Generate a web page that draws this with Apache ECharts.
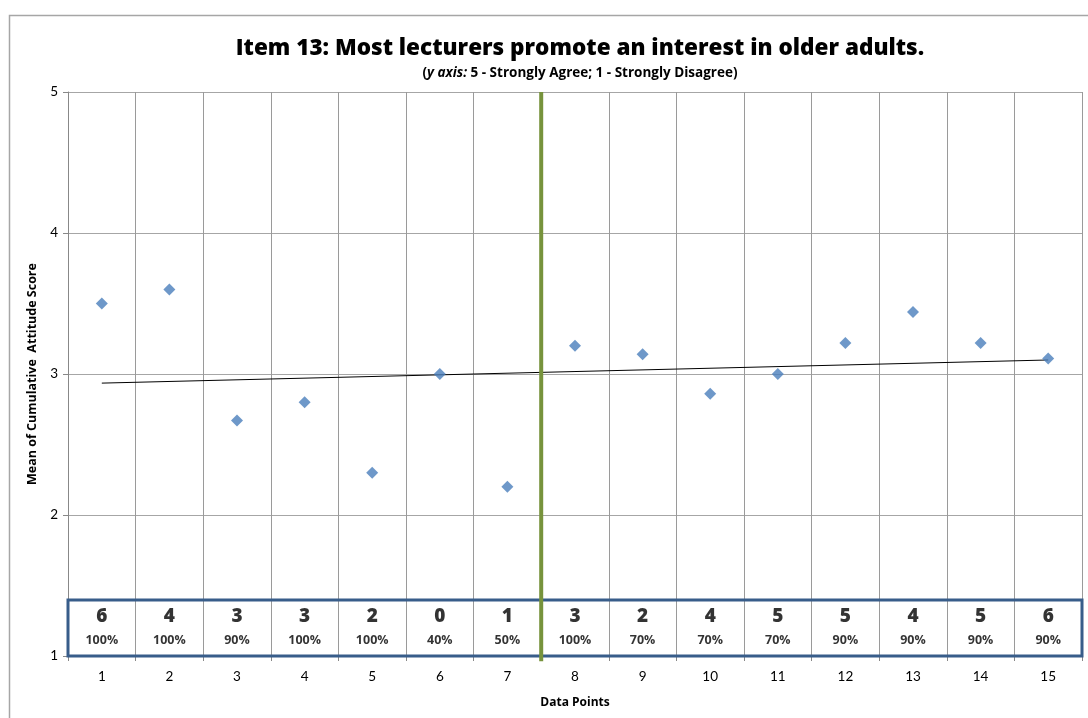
<!DOCTYPE html>
<html>
<head>
<meta charset="utf-8">
<script src="https://cdn.jsdelivr.net/npm/echarts@6/dist/echarts.min.js"></script>
<style>
html,body{margin:0;padding:0;background:#fff;}
#chart{width:1088px;height:718px;}
</style>
</head>
<body>
<div id="chart"></div>
<script>
// ---- data ----
const categories = ['1','2','3','4','5','6','7','8','9','10','11','12','13','14','15'];
const meanScores = [3.5, 3.6, 2.67, 2.8, 2.3, 3.0, 2.2, 3.2, 3.14, 2.86, 3.0, 3.22, 3.44, 3.22, 3.11];
const counts = [6, 4, 3, 3, 2, 0, 1, 3, 2, 4, 5, 5, 4, 5, 6];
const percents = ['100%', '100%', '90%', '100%', '100%', '40%', '50%', '100%', '70%', '70%', '70%', '90%', '90%', '90%', '90%'];
const yTicks = [1, 2, 3, 4, 5];
const phaseBreak = 7.5;

const FONT = 'Lato, "Open Sans", sans-serif';
const BFONT = '"Open Sans", Lato, sans-serif';

// linear trend from data
const n = meanScores.length;
const xs = meanScores.map((_, i) => i + 1);
const mx = xs.reduce((a, b) => a + b, 0) / n;
const my = meanScores.reduce((a, b) => a + b, 0) / n;
let sxy = 0, sxx = 0;
for (let i = 0; i < n; i++) { sxy += (xs[i] - mx) * (meanScores[i] - my); sxx += (xs[i] - mx) * (xs[i] - mx); }
const slope = sxy / sxx, icpt = my - slope * mx;
const trend = [[1, icpt + slope], [n, icpt + slope * n]];

const chart = echarts.init(document.getElementById('chart'));
chart.setOption({
  animation: false,
  backgroundColor: '#fff',
  textStyle: { fontFamily: FONT },
  graphic: [{
    type: 'rect', left: 7, top: 13, silent: true,
    shape: { width: 1200, height: 800 },
    style: { fill: 'none', stroke: '#a6a6a6', lineWidth: 1.5 }
  }],
  title: {
    text: 'Item 13: Most lecturers promote an interest in older adults.',
    subtext: '({i|y axis:} 5 - Strongly Agree; 1 - Strongly Disagree)',
    left: 575, textAlign: 'center', top: 32, itemGap: 6,
    textStyle: { fontFamily: BFONT, fontWeight: 800, fontSize: 22.5, color: '#000' },
    subtextStyle: {
      fontFamily: BFONT, fontWeight: 700, fontSize: 13.5, color: '#000',
      rich: { i: { fontFamily: BFONT, fontWeight: 700, fontStyle: 'italic', fontSize: 13.5, color: '#000' } }
    }
  },
  grid: { left: 68, right: 6, top: 92, bottom: 62, containLabel: false },
  xAxis: [{
    type: 'category', data: categories, boundaryGap: true,
    name: 'Data Points', nameLocation: 'middle', nameGap: 41,
    nameTextStyle: { fontFamily: BFONT, fontWeight: 700, fontSize: 12, color: '#000' },
    axisLine: { lineStyle: { color: '#888', width: 1 } },
    axisTick: { show: true, length: 5, lineStyle: { color: '#888' } },
    axisLabel: { fontFamily: FONT, fontSize: 13.5, color: '#000', margin: 14 },
    splitLine: { show: true, interval: 0, lineStyle: { color: '#9a9a9a', width: 1 } }
  }, {
    type: 'value', min: 0.5, max: 15.5, show: false
  }],
  yAxis: {
    type: 'value', min: yTicks[0], max: yTicks[yTicks.length - 1], interval: 1,
    name: 'Mean of Cumulative  Attitude Score', nameLocation: 'middle', nameGap: 27, nameRotate: 90,
    nameTextStyle: { fontFamily: BFONT, fontWeight: 700, fontSize: 12.5, color: '#000' },
    axisLine: { show: true, lineStyle: { color: '#888', width: 1 } },
    axisTick: { show: true, length: 5, lineStyle: { color: '#888' } },
    axisLabel: { fontFamily: FONT, fontSize: 13.5, color: '#000', margin: 10 },
    splitLine: { show: true, lineStyle: { color: '#a6a6a6', width: 1 } }
  },
  series: [
    {
      type: 'line', xAxisIndex: 1, data: trend, symbol: 'none', silent: true,
      lineStyle: { color: '#000', width: 1 }, z: 3,
      markArea: {
        silent: true,
        itemStyle: { color: 'rgba(0,0,0,0)', borderColor: '#385D8A', borderWidth: 3 },
        data: [[{ xAxis: 0.5, yAxis: 1 }, { xAxis: 15.5, yAxis: 1.397 }]]
      }
    },
    {
      type: 'line', xAxisIndex: 1, data: [[phaseBreak, 0.962], [phaseBreak, 5]], symbol: 'none', silent: true,
      clip: false, lineStyle: { color: '#77933C', width: 4 }, z: 4
    },
    {
      type: 'scatter', xAxisIndex: 1, symbol: 'diamond', symbolSize: 12,
      itemStyle: { color: '#4A7EBB' }, z: 5,
      data: meanScores.map((v, i) => [i + 1, v])
    },
    {
      type: 'scatter', xAxisIndex: 1, symbolSize: 0, silent: true,
      data: counts.map((c, i) => [i + 1, 1.28]),
      label: {
        show: true, position: 'inside',
        formatter: p => String(counts[p.dataIndex]),
        fontFamily: BFONT, fontWeight: 800, fontSize: 19, color: '#000'
      }
    },
    {
      type: 'scatter', xAxisIndex: 1, symbolSize: 0, silent: true,
      data: percents.map((c, i) => [i + 1, 1.11]),
      label: {
        show: true, position: 'inside',
        formatter: p => percents[p.dataIndex],
        fontFamily: BFONT, fontWeight: 700, fontSize: 12.5, color: '#000'
      }
    }
  ]
});
</script>
</body>
</html>
